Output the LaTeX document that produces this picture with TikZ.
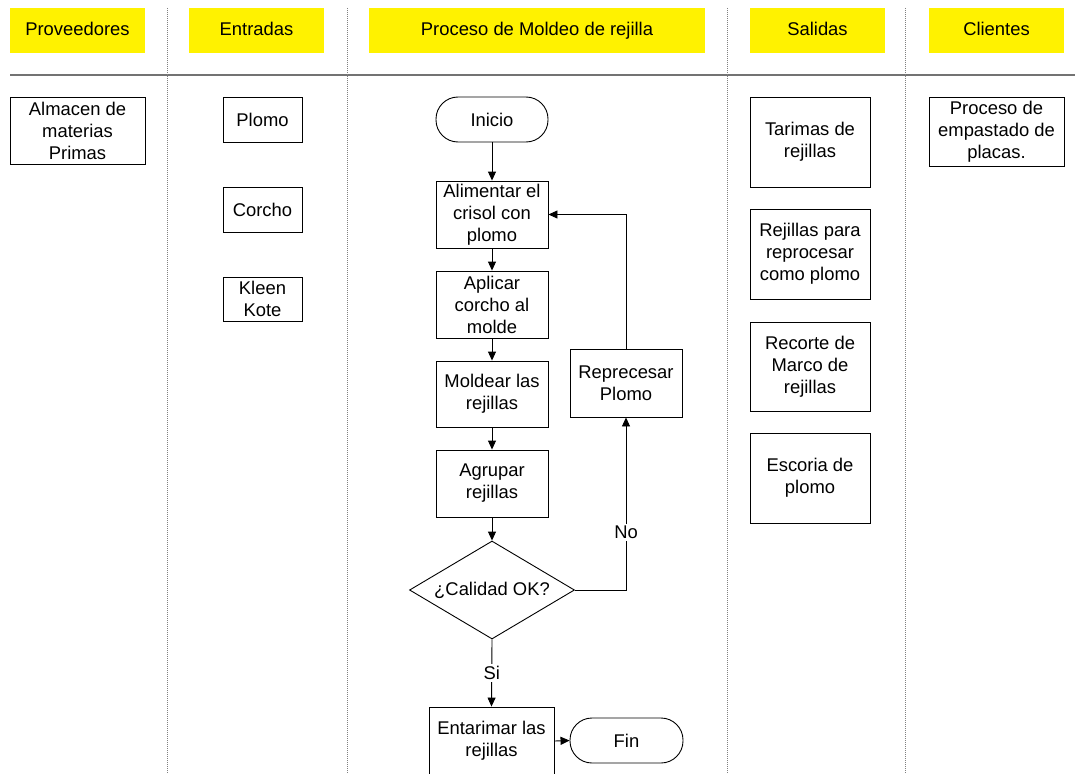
\documentclass[tikz,border=0pt]{standalone}
\usepackage{fontspec}
\setmainfont{Liberation Sans}
\usetikzlibrary{shapes.geometric,arrows.meta}
\begin{document}
\begin{tikzpicture}[x=1pt,y=-1pt,
  every node/.style={font=\fontsize{18.4}{22}\selectfont},
  hdr/.style={fill=yellow, draw=none, minimum width=135pt, minimum height=45pt, inner sep=0pt, text height=13.5pt, text depth=2.5pt},
  box/.style={draw, line width=0.9pt, align=center, inner sep=0pt},
  term/.style={draw, line width=0.9pt, rounded corners=22pt, minimum width=112pt, minimum height=45pt, inner sep=0pt},
  arr/.style={line width=0.9pt, -{Triangle[length=9pt,width=8pt]}},
  lane/.style={draw=gray, line width=0.8pt, dash pattern=on 1pt off 1pt},
  lbl/.style={fill=white, inner sep=2pt}]
\clip (0,0) rectangle (1075,773);
\fill[white] (0,0) rectangle (1075,773);
% headers
\node[hdr] (hprov) at (77.5,30.5) {Proveedores};
\node[hdr] (hent) at (256.5,30.5) {Entradas};
\node[hdr, minimum width=336pt] (hproc) at (537,30.5) {Proceso de Moldeo de rejilla};
\node[hdr] (hsal) at (817.5,30.5) {Salidas};
\node[hdr] (hcli) at (996.5,30.5) {Clientes};
% separator and lanes
\coordinate (hl0) at (10,75);
\coordinate (hl1) at (1075,75);
\draw[black!55, line width=1.5pt] (hl0) -- (hl1);
\foreach \x/\n in {167/a,347/b,727/c,905/d}{
  \coordinate (lt\n) at (\x,8);
  \coordinate (lb\n) at (\x,773);
  \draw[lane] (lt\n) -- (lb\n);
}
% left columns
\node[box, minimum width=135pt, minimum height=67pt] (almacen) at (77.5,130.5) {Almacen de\\materias\\Primas};
\node[box, minimum width=79pt, minimum height=45pt] (plomo) at (262.5,119.5) {Plomo};
\node[box, minimum width=79pt, minimum height=45pt] (corcho) at (262.5,209.5) {Corcho};
\node[box, minimum width=79pt, minimum height=44pt] (kleen) at (262.5,299) {Kleen\\Kote};
% right columns
\node[box, minimum width=120pt, minimum height=90pt] (tarimas) at (810,142) {Tarimas de\\rejillas};
\node[box, minimum width=120pt, minimum height=90pt] (rejillas) at (810,254) {Rejillas para\\reprocesar\\como plomo};
\node[box, minimum width=120pt, minimum height=89pt] (recorte) at (810,366.5) {Recorte de\\Marco de\\rejillas};
\node[box, minimum width=120pt, minimum height=90pt] (escoria) at (810,478) {Escoria de\\plomo};
\node[box, minimum width=135pt, minimum height=69pt] (empastado) at (996.5,131.5) {Proceso de\\empastado de\\placas.};
% flowchart
\node[term] (inicio) at (492,119.5) {Inicio};
\node[box, minimum width=112pt, minimum height=67pt] (alim) at (492,214.5) {Alimentar el\\crisol con\\plomo};
\node[box, minimum width=112pt, minimum height=67pt] (aplicar) at (492,304.5) {Aplicar\\corcho al\\molde};
\node[box, minimum width=112pt, minimum height=66pt] (moldear) at (492,394) {Moldear las\\rejillas};
\node[box, minimum width=112pt, minimum height=67pt] (agrupar) at (492,483.5) {Agrupar\\rejillas};
\node[diamond, draw, line width=0.9pt, minimum width=165pt, minimum height=98pt, inner sep=0pt, aspect=1.68] (calidad) at (492,590) {¿Calidad OK?};
\node[box, minimum width=112pt, minimum height=68pt] (repro) at (626,383) {Reprecesar\\Plomo};
\node[box, minimum width=125pt, minimum height=68pt] (entarimar) at (491.5,741) {Entarimar las\\rejillas};
\node[term, minimum width=113pt] (fin) at (626.5,740.5) {Fin};
% connectors
\draw[arr] (inicio) -- (alim);
\draw[arr] (alim) -- (aplicar);
\draw[arr] (aplicar) -- (moldear);
\draw[arr] (moldear) -- (agrupar);
\draw[arr] (agrupar) -- (calidad);
\draw[arr] (repro.north) |- (alim.east);
\draw[arr] (calidad.east) -| node[lbl, pos=0.667] {No} (repro.south);
\draw[arr] (calidad.south) -- node[lbl, pos=0.5] {Si} (entarimar.north);
\draw[arr] (entarimar.east) -- (fin.west);
\end{tikzpicture}
\end{document}
